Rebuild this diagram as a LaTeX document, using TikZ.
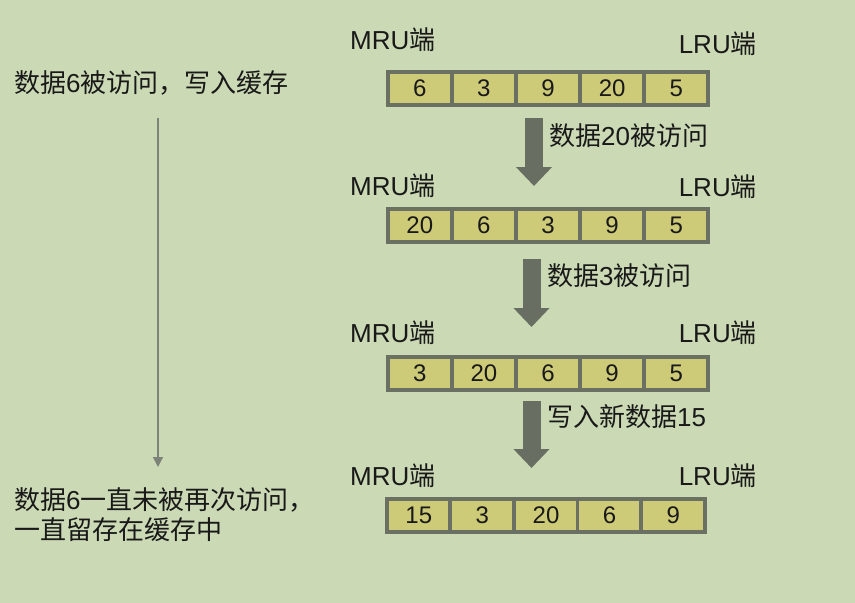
\documentclass[tikz,border=0pt]{standalone}
\usepackage{fontspec}
\setmainfont{Noto Sans CJK SC}
\newfontfamily\lat{Liberation Sans}
\usetikzlibrary{arrows.meta}
\definecolor{bg}{RGB}{203,217,181}
\definecolor{cellfill}{RGB}{205,202,120}
\definecolor{frame}{RGB}{106,112,98}
\definecolor{arrowc}{RGB}{104,111,98}
\definecolor{thinc}{RGB}{125,131,120}
\definecolor{txt}{RGB}{25,25,25}
\begin{document}
\begin{tikzpicture}[x=1pt,y=-1pt,
  cell/.style={draw=frame, fill=cellfill, line width=3.8pt, minimum width=64.1pt,
    minimum height=33pt, inner sep=0pt, text=txt, font=\lat\fontsize{24}{24}\selectfont},
  lbl/.style={font=\fontsize{26}{30}\selectfont, inner sep=0pt, text=txt},
  bigarrow/.style={draw=arrowc, line width=18pt, -{Triangle[width=35pt,length=19pt]}},
  thinarrow/.style={draw=thinc, line width=1.5pt, -{Triangle[width=10pt,length=10pt]}}]
\fill[bg] (0,0) rectangle (855,603);
\useasboundingbox (0,0) rectangle (855,603);

% row 1
\node[lbl, anchor=west] (m1) at (350,40) {{\lat MRU}端};
\node[lbl, anchor=east] (l1) at (757,44) {{\lat LRU}端};
\foreach \v [count=\i] in {6,3,9,20,5}
  \node[cell] (a\i) at ({355.7+64.1*\i},88.5) {\v};
% row 2
\node[lbl, anchor=west] (m2) at (350,186) {{\lat MRU}端};
\node[lbl, anchor=east] (l2) at (757,187) {{\lat LRU}端};
\foreach \v [count=\i] in {20,6,3,9,5}
  \node[cell] (b\i) at ({355.7+64.1*\i},225.5) {\v};
% row 3
\node[lbl, anchor=west] (m3) at (350,333) {{\lat MRU}端};
\node[lbl, anchor=east] (l3) at (757,333) {{\lat LRU}端};
\foreach \v [count=\i] in {3,20,6,9,5}
  \node[cell] (c\i) at ({355.7+64.1*\i},373.5) {\v};
% row 4
\node[lbl, anchor=west] (m4) at (350,476) {{\lat MRU}端};
\node[lbl, anchor=east] (l4) at (757,476) {{\lat LRU}端};
\foreach \v [count=\i] in {15,3,20,6,9}
  \node[cell] (d\i) at ({355.2+63.6*\i},515.5) {\v};

% big arrows
\coordinate (s1) at (534,118);   \coordinate (e1) at (534,186);
\coordinate (s2) at (531.5,259); \coordinate (e2) at (531.5,327);
\coordinate (s3) at (531.5,401); \coordinate (e3) at (531.5,468);
\draw[bigarrow] (s1) -- (e1);
\draw[bigarrow] (s2) -- (e2);
\draw[bigarrow] (s3) -- (e3);
\node[lbl, anchor=west] (t1) at (549,136) {数据{\lat 20}被访问};
\node[lbl, anchor=west] (t2) at (547,276) {数据{\lat 3}被访问};
\node[lbl, anchor=west] (t3) at (547,417) {写入新数据{\lat 15}};

% left side
\node[lbl, anchor=west] (top) at (14,83) {数据{\lat 6}被访问，写入缓存};
\node[lbl, anchor=west, align=left] (bot) at (14,515) {数据{\lat 6}一直未被再次访问，\\一直留存在缓存中};
\coordinate (ls) at (158,118);
\coordinate (le) at (158,467);
\draw[thinarrow] (ls) -- (le);
\end{tikzpicture}
\end{document}
